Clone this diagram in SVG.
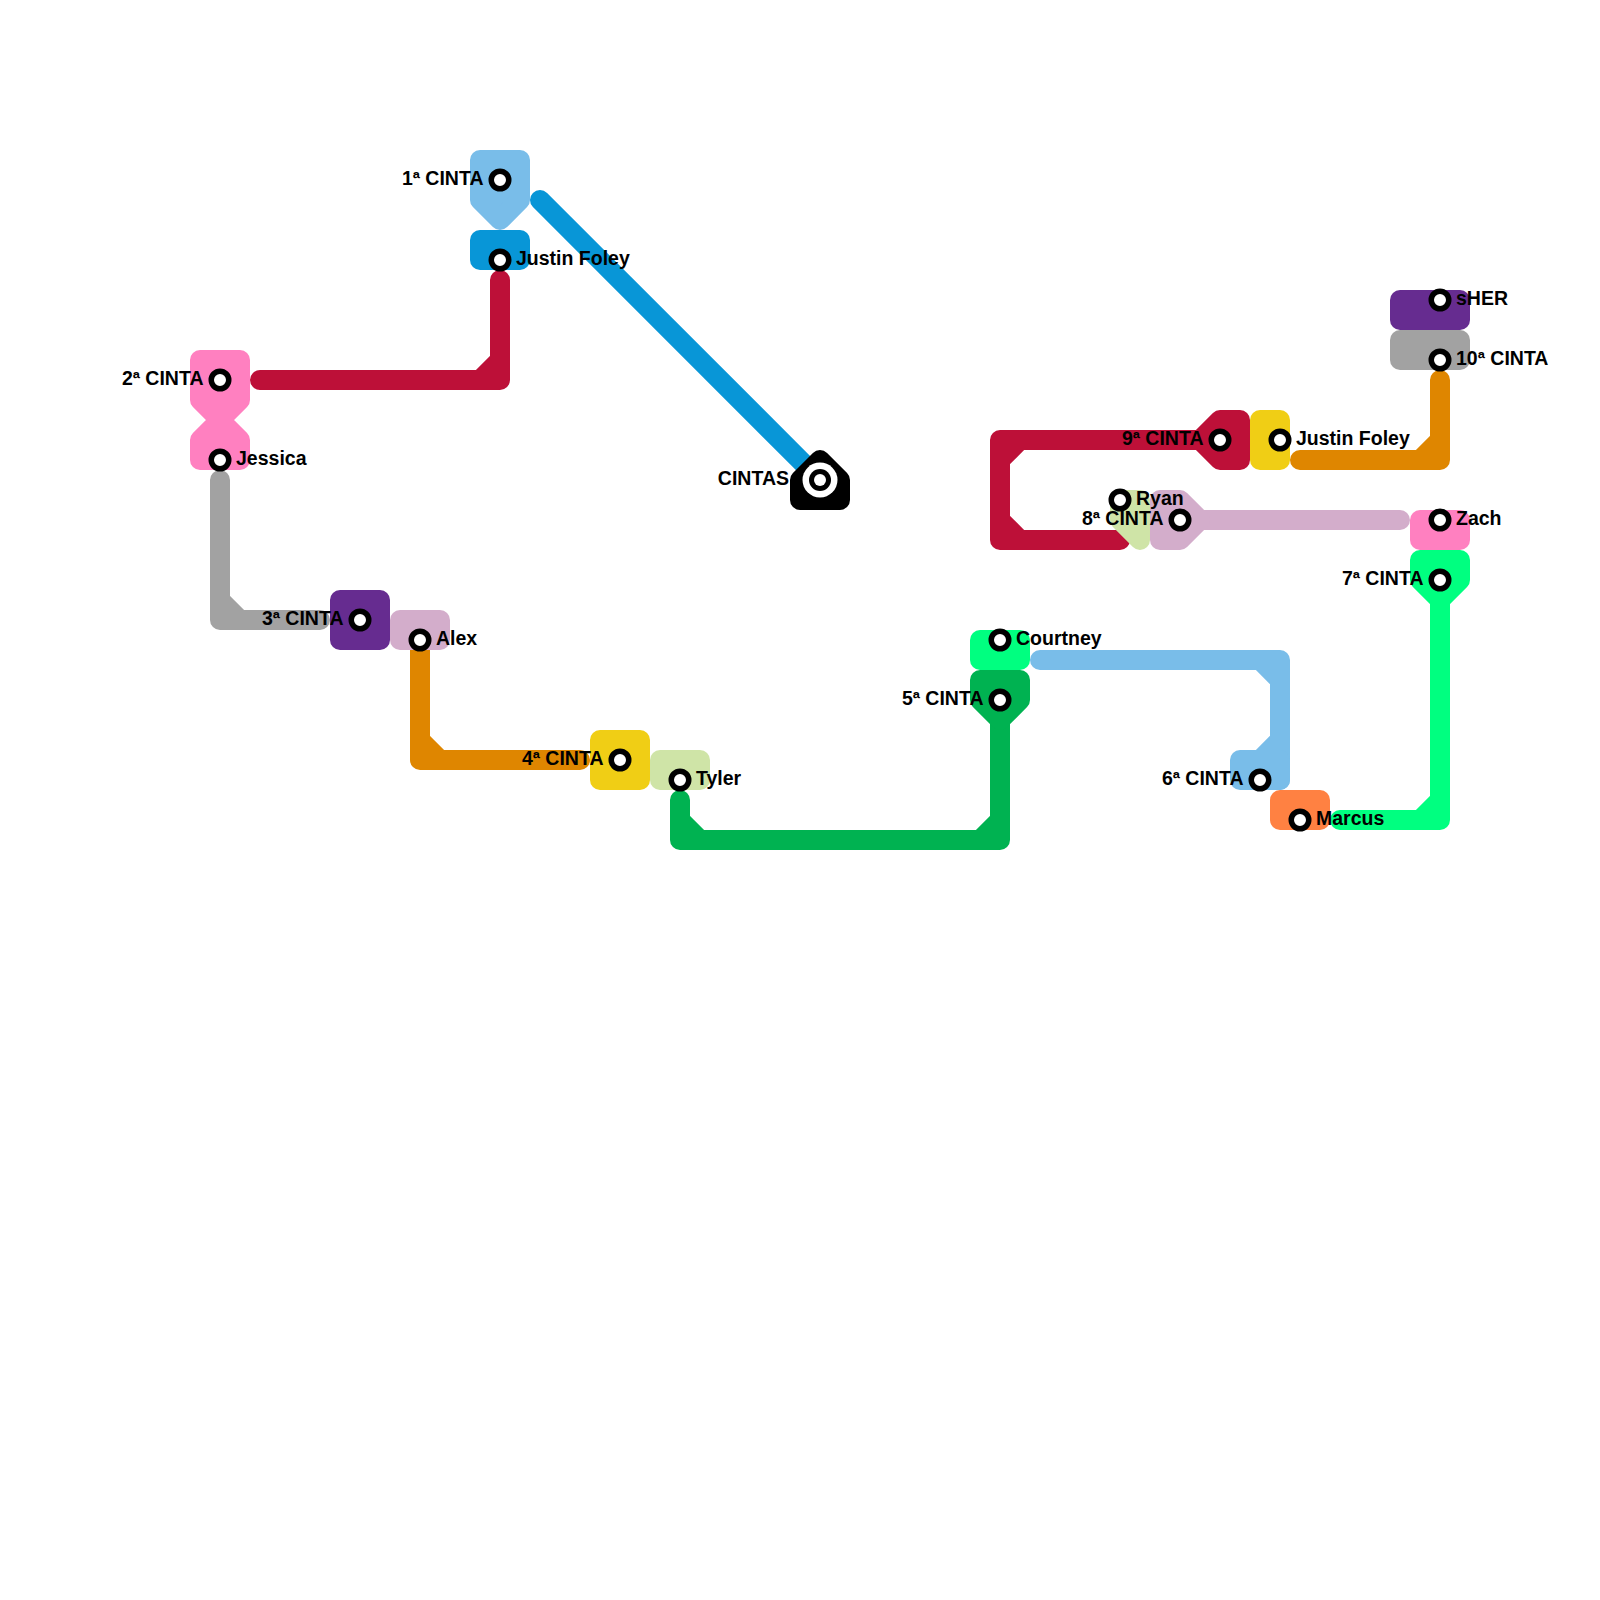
<svg xmlns="http://www.w3.org/2000/svg" width="1600" height="1600" viewBox="0 0 1600 1600">
<style>
.ln{fill:none;stroke-width:20;stroke-linecap:round;stroke-linejoin:round}
.tl{stroke-width:20;stroke-linejoin:round;stroke-linecap:round}
.st{fill:#fff;stroke:#000;stroke-width:5.5}
.lb{font-family:"Liberation Sans",Arial,sans-serif;font-weight:bold;font-size:19.5px;fill:#000}
.l{text-anchor:end}
.red{stroke:#BD1038;fill:#BD1038}
.org{stroke:#DF8600;fill:#DF8600}
.yel{stroke:#F0CE15;fill:#F0CE15}
.grn{stroke:#00B251;fill:#00B251}
.blu{stroke:#0896D7;fill:#0896D7}
.pur{stroke:#662C90;fill:#662C90}
.gry{stroke:#A2A2A2;fill:#A2A2A2}
.blk{stroke:#000;fill:#000}
.lbl{stroke:#79BDE9;fill:#79BDE9}
.lgr{stroke:#CFE4A7;fill:#CFE4A7}
.pnk{stroke:#FF80C0;fill:#FF80C0}
.lpu{stroke:#D3ADCB;fill:#D3ADCB}
.bgr{stroke:#00FF80;fill:#00FF80}
.mor{stroke:#FF8142;fill:#FF8142}
.ln.red,.ln.org,.ln.grn,.ln.blu,.ln.gry,.ln.lbl,.ln.lpu,.ln.bgr{fill:none}
</style>
<rect width="1600" height="1600" fill="#fff"/>
<g id="connectors">
<path class="ln blu" d="M540,200 L820,480"/>
<path class="ln red" d="M260,380 H500 V280 M480,380 L500,360"/>
<path class="ln gry" d="M220,480 V620 H320 M220,600 L240,620"/>
<path class="ln org" d="M420,640 V760 H580 M420,740 L440,760"/>
<path class="ln grn" d="M680,800 V840 H1000 V720 M680,820 L700,840 M980,840 L1000,820"/>
<path class="ln lbl" d="M1040,660 H1280 V780 M1260,660 L1280,680 M1260,760 L1280,740"/>
<path class="ln bgr" d="M1340,820 H1440 V600 M1420,820 L1440,800"/>
<path class="ln lpu" d="M1200,520 H1400"/>
<path class="ln red" d="M1200,440 H1000 V540 H1120 M1000,460 L1020,440 M1000,520 L1020,540"/>
<path class="ln org" d="M1300,460 H1440 V380 M1420,460 L1440,440"/>
</g>
<g id="cinta1">
<polygon class="tl lbl" points="480,160 520,160 520,200 500,220 480,200"/>
<circle class="st" cx="500" cy="180" r="8.75"/>
<text class="lb l" x="483.5" y="184.5">1ª CINTA</text>
</g>
<g id="justin-foley-1">
<polygon class="tl blu" points="480,240 520,240 520,260 480,260"/>
<circle class="st" cx="500" cy="260" r="8.75"/>
<text class="lb" x="516" y="264.5">Justin Foley</text>
</g>
<g id="cintas">
<polygon class="tl blk" points="800,480 820,460 840,480 840,500 800,500"/>
<circle cx="820" cy="480" r="17.5" fill="#fff"/>
<circle cx="820" cy="480" r="11" fill="#000"/>
<circle cx="820" cy="480" r="6" fill="#fff"/>
<text class="lb l" x="789" y="484.5">CINTAS</text>
</g>
<g id="cinta2-jessica">
<polygon class="tl pnk" points="200,360 240,360 240,400 220,420 240,440 240,460 200,460 200,440 220,420 200,400"/>
<path class="ln pnk" d="M220,400 V440" fill="none"/>
<circle class="st" cx="220" cy="380" r="8.75"/>
<text class="lb l" x="203.5" y="384.5">2ª CINTA</text>
<circle class="st" cx="220" cy="460" r="8.75"/>
<text class="lb" x="236" y="464.5">Jessica</text>
</g>
<g id="cinta3">
<polygon class="tl pur" points="340,600 380,600 380,640 340,640"/>
<circle class="st" cx="360" cy="620" r="8.75"/>
<text class="lb l" x="343.5" y="624.5">3ª CINTA</text>
</g>
<g id="alex">
<polygon class="tl lpu" points="400,620 440,620 440,640 400,640"/>
<circle class="st" cx="420" cy="640" r="8.75"/>
<text class="lb" x="436" y="644.5">Alex</text>
</g>
<g id="cinta4">
<polygon class="tl yel" points="600,740 640,740 640,780 600,780"/>
<circle class="st" cx="620" cy="760" r="8.75"/>
<text class="lb l" x="603.5" y="764.5">4ª CINTA</text>
</g>
<g id="tyler">
<polygon class="tl lgr" points="660,760 700,760 700,780 660,780"/>
<circle class="st" cx="680" cy="780" r="8.75"/>
<text class="lb" x="696" y="784.5">Tyler</text>
</g>
<g id="courtney">
<polygon class="tl bgr" points="980,640 1020,640 1020,660 980,660"/>
<circle class="st" cx="1000" cy="640" r="8.75"/>
<text class="lb" x="1016" y="644.5">Courtney</text>
</g>
<g id="cinta5">
<polygon class="tl grn" points="980,680 1020,680 1020,700 1000,720 980,700"/>
<circle class="st" cx="1000" cy="700" r="8.75"/>
<text class="lb l" x="983.5" y="704.5">5ª CINTA</text>
</g>
<g id="cinta6">
<polygon class="tl lbl" points="1240,760 1280,760 1280,780 1240,780"/>
<circle class="st" cx="1260" cy="780" r="8.75"/>
<text class="lb l" x="1243.5" y="784.5">6ª CINTA</text>
</g>
<g id="marcus">
<polygon class="tl mor" points="1280,800 1320,800 1320,820 1280,820"/>
<circle class="st" cx="1300" cy="820" r="8.75"/>
<text class="lb" x="1316" y="824.5">Marcus</text>
</g>
<g id="cinta7">
<polygon class="tl bgr" points="1420,560 1460,560 1460,580 1440,600 1420,580"/>
<circle class="st" cx="1440" cy="580" r="8.75"/>
<text class="lb l" x="1423.5" y="584.5">7ª CINTA</text>
</g>
<g id="zach">
<polygon class="tl pnk" points="1420,520 1460,520 1460,540 1420,540"/>
<circle class="st" cx="1440" cy="520" r="8.75"/>
<text class="lb" x="1456" y="524.5">Zach</text>
</g>
<g id="ryan">
<polygon class="tl lgr" points="1120,500 1140,500 1140,540 1120,520"/>
</g>
<g id="cinta8">
<polygon class="tl lpu" points="1160,500 1180,500 1200,520 1180,540 1160,540"/>
<circle class="st" cx="1180" cy="520" r="8.75"/>
<text class="lb l" x="1163.5" y="524.5">8ª CINTA</text>
</g>
<g id="ryan-station">
<circle class="st" cx="1120" cy="500" r="8.75"/>
<text class="lb" x="1136" y="504.5">Ryan</text>
</g>
<g id="cinta9">
<polygon class="tl red" points="1220,420 1240,420 1240,460 1220,460 1200,440"/>
<circle class="st" cx="1220" cy="440" r="8.75"/>
<text class="lb l" x="1203.5" y="444.5">9ª CINTA</text>
</g>
<g id="justin-foley-2">
<polygon class="tl yel" points="1260,420 1280,420 1280,460 1260,460"/>
<circle class="st" cx="1280" cy="440" r="8.75"/>
<text class="lb" x="1296" y="444.5">Justin Foley</text>
</g>
<g id="cinta10">
<polygon class="tl gry" points="1400,340 1460,340 1460,360 1400,360"/>
<circle class="st" cx="1440" cy="360" r="8.75"/>
<text class="lb" x="1456" y="364.5">10ª CINTA</text>
</g>
<g id="sher">
<polygon class="tl pur" points="1400,300 1460,300 1460,320 1400,320"/>
<circle class="st" cx="1440" cy="300" r="8.75"/>
<text class="lb" x="1456" y="304.5">sHER</text>
</g>
</svg>
